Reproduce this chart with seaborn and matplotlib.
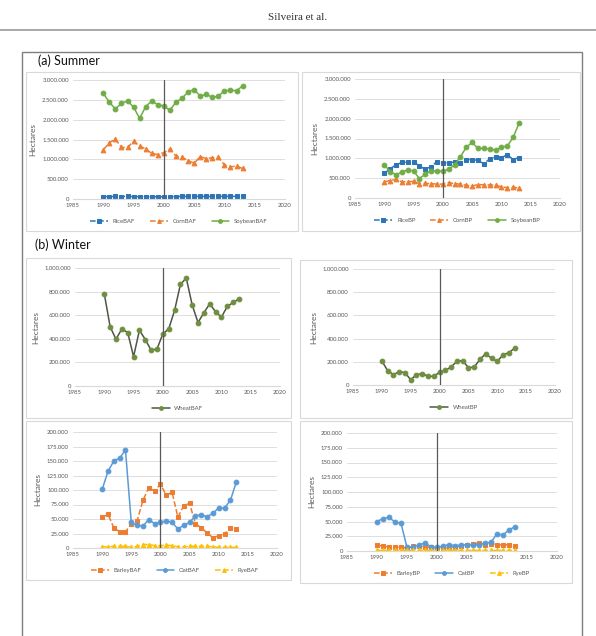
import numpy as np
import pandas as pd
import seaborn as sns
import matplotlib.pyplot as plt
from matplotlib.ticker import FuncFormatter, MultipleLocator
from matplotlib.patches import Rectangle
from matplotlib.lines import Line2D

years = list(range(1990, 2014))

# (a) Summer - BAF
rice_baf = [62000, 60000, 64000, 63000, 65000, 62000, 60000, 58000, 58000, 57000, 56000, 58000,
            62000, 64000, 66000, 66000, 65000, 64000, 65000, 66000, 65000, 66000, 66000, 65000]
corn_baf = [1240000, 1420000, 1510000, 1300000, 1300000, 1450000, 1340000, 1260000, 1150000, 1120000,
            1170000, 1260000, 1080000, 1050000, 970000, 900000, 1070000, 1020000, 1040000, 1050000,
            860000, 810000, 830000, 770000]
soy_baf = [2660000, 2440000, 2270000, 2410000, 2470000, 2320000, 2030000, 2330000, 2470000, 2380000,
           2340000, 2240000, 2440000, 2540000, 2700000, 2760000, 2590000, 2640000, 2560000, 2590000,
           2730000, 2740000, 2730000, 2850000]

# (a) Summer - BP
rice_bp = [620000, 740000, 830000, 900000, 900000, 920000, 800000, 730000, 790000, 920000,
           890000, 880000, 910000, 890000, 970000, 970000, 950000, 860000, 990000, 1030000,
           1020000, 1090000, 970000, 1020000]
corn_bp = [410000, 440000, 470000, 410000, 410000, 420000, 360000, 370000, 360000, 350000,
           350000, 390000, 360000, 350000, 320000, 300000, 340000, 330000, 330000, 320000,
           280000, 260000, 270000, 250000]
soy_bp = [840000, 660000, 590000, 650000, 710000, 680000, 490000, 600000, 690000, 680000,
          680000, 720000, 840000, 1040000, 1280000, 1400000, 1250000, 1250000, 1230000, 1210000,
          1280000, 1310000, 1530000, 1880000]

# (b) Winter - wheat
wheat_baf = [782000, 501000, 397000, 484000, 453000, 249000, 473000, 394000, 303000, 314000,
             442000, 484000, 640000, 861000, 915000, 688000, 538000, 620000, 697000, 629000,
             584000, 674000, 708000, 739000]
wheat_bp = [207000, 124000, 89000, 115000, 106000, 46000, 89000, 98000, 75000, 75000,
            109000, 126000, 155000, 204000, 210000, 149000, 155000, 221000, 270000, 230000,
            204000, 259000, 279000, 316000]

# (b) Winter - barley, oat, rye
barley_baf = [53000, 58000, 35000, 28000, 28000, 41000, 47000, 82000, 104000, 98000,
              110000, 91000, 96000, 53000, 73000, 77000, 42000, 35000, 26000, 18000,
              21000, 24000, 35000, 32000]
oat_baf = [101000, 132000, 150000, 155000, 169000, 44000, 39000, 38000, 49000, 42000,
           44000, 47000, 44000, 33000, 39000, 44000, 56000, 57000, 54000, 60000,
           69000, 69000, 82000, 113000]
rye_baf = [2000, 2000, 3000, 3000, 3000, 1000, 3000, 6000, 6000, 4000,
           4000, 5000, 4000, 2000, 2000, 3000, 3000, 3000, 3000, 2000,
           1000, 1000, 1000, 1000]
barley_bp = [10000, 8000, 7000, 7000, 6000, 5000, 8000, 8000, 7000, 6000,
             5000, 4000, 6000, 7000, 8000, 10000, 12000, 14000, 11000, 12000,
             11000, 10000, 11000, 8000]
oat_bp = [50000, 55000, 57000, 49000, 47000, 6000, 7000, 10000, 14000, 7000,
          6000, 8000, 11000, 9000, 10000, 11000, 10000, 11000, 13000, 15000,
          29000, 27000, 36000, 41000]
rye_bp = [1000, 1000, 1000, 1000, 1000, 1000, 1000, 1000, 1500, 1000,
          1000, 1000, 1000, 1000, 1000, 1000, 1000, 1000, 1000, 1000,
          1000, 1000, 1000, 1000]

sns.set_style("white")
plt.rcParams['font.family'] = ['Lato', 'DejaVu Sans']

W, H = 596, 636
fig = plt.figure(figsize=(W / 100, H / 100), dpi=100)


def box(l, t, r, b):
    return [l / W, 1 - b / H, (r - l) / W, (b - t) / H]


GRAY = '#595959'
BLUE = '#2E75B6'
LBLUE = '#5B9BD5'
ORANGE = '#ED7D31'
GREEN = '#70AD47'
YELLOW = '#FFC000'

# header and frames
fig.text(0.5, 1 - 17 / H, 'Silveira et al.', ha='center', va='center',
         fontsize=8, family='Liberation Serif', color='#333333')
fig.add_artist(Line2D([0, 1], [1 - 30 / H, 1 - 30 / H], color='#9a9a9a', lw=1.2))
fig.add_artist(Rectangle((22 / W, -0.01), 560 / W, 1 - 52 / H + 0.01, fill=False,
                         ec='#7f7f7f', lw=1.0, transform=fig.transFigure))
for l, t, r, b in [(26, 72, 298, 231), (302, 72, 580, 231), (26, 258, 291, 418),
                   (300, 260, 572, 418), (26, 421, 291, 580), (300, 421, 572, 583)]:
    fig.add_artist(Rectangle((l / W, 1 - b / H), (r - l) / W, (b - t) / H, fill=False,
                             ec='#d9d9d9', lw=0.8, transform=fig.transFigure))
fig.text(38 / W, 1 - 61 / H, '(a) Summer', fontsize=9, va='center', color='#111111')
fig.text(35 / W, 1 - 245 / H, '(b) Winter', fontsize=9, va='center', color='#111111')


def panel(rect, series, ymax, ystep, legend_y):
    ax = fig.add_axes(box(*rect))
    for name, vals, color, marker, ls, mcolor in series:
        sns.lineplot(x=years, y=vals, ax=ax, color=color, marker=marker, linestyle=ls,
                     markersize=3.4, markerfacecolor=mcolor, markeredgecolor=mcolor,
                     linewidth=1.1, label=name)
    ax.axvline(2000, color=GRAY, lw=0.9, zorder=5)
    ax.set_xlim(1985, 2020)
    ax.set_ylim(0, ymax)
    ax.xaxis.set_major_locator(MultipleLocator(5))
    ax.yaxis.set_major_locator(MultipleLocator(ystep))
    ax.yaxis.set_major_formatter(FuncFormatter(lambda v, p: f"{int(v):,}".replace(',', '.')))
    ax.grid(axis='y', color='#d9d9d9', lw=0.6)
    ax.set_axisbelow(True)
    for s in ['top', 'right', 'left']:
        ax.spines[s].set_visible(False)
    ax.spines['bottom'].set_color('#d9d9d9')
    ax.tick_params(axis='both', labelsize=4.3, colors=GRAY, length=0, pad=3)
    ax.set_ylabel('Hectares', fontsize=6, color=GRAY)
    ax.set_xlabel('')
    ax.legend(loc='center', bbox_to_anchor=(0.5, legend_y), ncol=3, frameon=False,
              fontsize=4.3, labelcolor=GRAY, handlelength=3, columnspacing=2.5,
              markerscale=0.8)
    return ax


panel((73, 80, 285, 199),
      [('RiceBAF', rice_baf, BLUE, 's', '--', BLUE),
       ('CornBAF', corn_baf, ORANGE, '^', '--', ORANGE),
       ('SoybeanBAF', soy_baf, GREEN, 'o', '-', GREEN)],
      3000000, 500000, -0.19)
panel((355, 79, 560, 198),
      [('RiceBP', rice_bp, BLUE, 's', '--', BLUE),
       ('CornBP', corn_bp, ORANGE, '^', '--', ORANGE),
       ('SoybeanBP', soy_bp, GREEN, 'o', '-', GREEN)],
      3000000, 500000, -0.19)
panel((75, 268, 280, 386),
      [('WheatBAF', wheat_baf, '#4f5548', 'o', '-', '#6f8f3f')],
      1000000, 200000, -0.19)
panel((353, 269, 555, 385),
      [('WheatBP', wheat_bp, '#4f5548', 'o', '-', '#6f8f3f')],
      1000000, 200000, -0.19)
panel((73, 432, 277, 548),
      [('BarleyBAF', barley_baf, ORANGE, 's', '--', ORANGE),
       ('OatBAF', oat_baf, LBLUE, 'o', '-', LBLUE),
       ('RyeBAF', rye_baf, YELLOW, '^', '--', YELLOW)],
      200000, 25000, -0.19)
panel((347, 433, 557, 551),
      [('BarleyBP', barley_bp, ORANGE, 's', '--', ORANGE),
       ('OatBP', oat_bp, LBLUE, 'o', '-', LBLUE),
       ('RyeBP', rye_bp, YELLOW, '^', '--', YELLOW)],
      200000, 25000, -0.19)

fig.savefig('out.png', dpi=100)
